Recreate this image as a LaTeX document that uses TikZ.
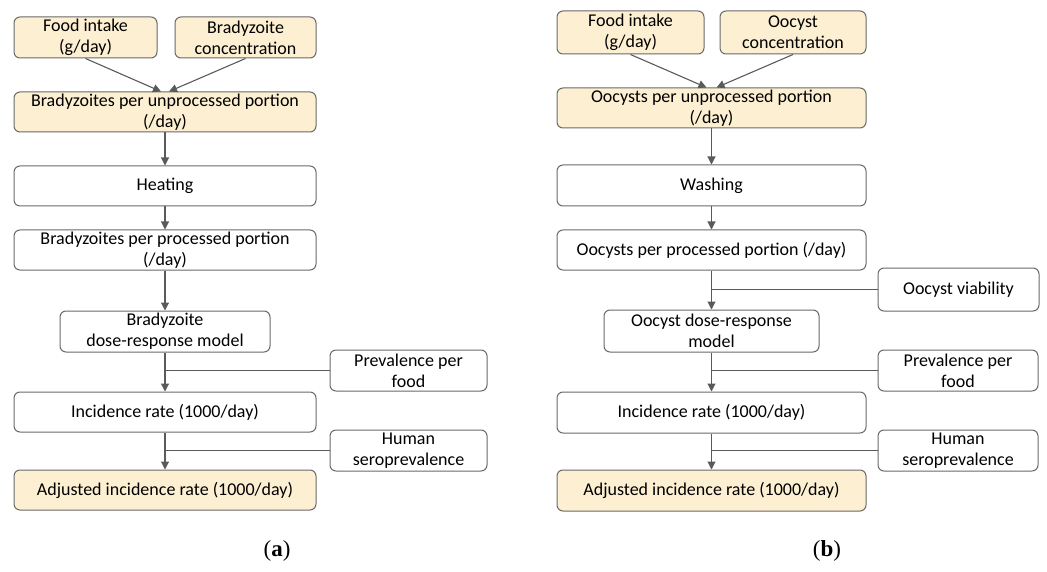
\documentclass[tikz,border=0pt]{standalone}
\usepackage{fontspec}
\setmainfont{Carlito}
\newfontfamily\panelfont{Liberation Serif}
\usetikzlibrary{positioning,arrows.meta,calc}
\definecolor{inputyellow}{RGB}{253,240,210}
\definecolor{boxgray}{RGB}{105,105,105}
\definecolor{flowgray}{RGB}{90,90,90}

\begin{document}
\begin{tikzpicture}[x=1pt,y=-1pt,
    base/.style={rectangle, rounded corners=6pt, draw=boxgray, line width=1pt, align=center, inner sep=0pt, font=\fontsize{18}{21}\selectfont},
    inbox/.style={base, fill=inputyellow},
    stepbox/.style={base, fill=white},
    flow/.style={draw=flowgray, line width=1.1pt, -{Triangle[width=8pt,length=8pt]}},
    feed/.style={draw=flowgray, line width=1.1pt},
    panel/.style={font=\panelfont\fontsize{23}{26}\selectfont}]
    \useasboundingbox (0,0) rectangle (1047,572);

    % (a) bradyzoites
    \node[inbox, minimum width=143pt, minimum height=41pt] (fooda) at (85.5,37.5) {Food intake\\(g/day)};
    \node[inbox, minimum width=141pt, minimum height=41pt] (conca) at (245.5,37.5) {Bradyzoite\\concentration};
    \node[inbox, minimum width=302pt, minimum height=40pt] (unproca) at (165,112) {Bradyzoites per unprocessed portion\\(/day)};
    \node[stepbox, minimum width=302pt, minimum height=40pt] (heata) at (165,186) {Heating};
    \node[stepbox, minimum width=302pt, minimum height=40pt] (proca) at (165,250) {Bradyzoites per processed portion\\(/day)};
    \node[stepbox, minimum width=210pt, minimum height=41pt] (dosea) at (165,331.5) {Bradyzoite\\dose-response model};
    \node[stepbox, minimum width=157pt, minimum height=41pt] (preva) at (408.5,370.5) {Prevalence per\\food};
    \node[stepbox, minimum width=302pt, minimum height=40pt] (inca) at (165,412) {Incidence rate (1000/day)};
    \node[stepbox, minimum width=157pt, minimum height=41pt] (seroa) at (408.5,450.5) {Human\\seroprevalence};
    \node[inbox, minimum width=302pt, minimum height=40pt] (adja) at (165,490) {Adjusted incidence rate (1000/day)};

    \draw[flow] (fooda.south) -- ([xshift=-4pt]unproca.north);
    \draw[flow] (conca.south) -- ([xshift=4pt]unproca.north);
    \draw[flow] (unproca) -- (heata);
    \draw[flow] (heata) -- (proca);
    \draw[flow] (proca) -- (dosea);
    \draw[flow] (dosea) -- (inca);
    \draw[flow] (inca) -- (adja);
    \draw[feed] (preva.west) -- (preva.west -| dosea.south);
    \draw[feed] (seroa.west) -- (seroa.west -| inca.south);

    % (b) oocysts
    \node[inbox, minimum width=147pt, minimum height=43pt] (foodb) at (630.5,32.5) {Food intake\\(g/day)};
    \node[inbox, minimum width=146pt, minimum height=43pt] (concb) at (793,32.5) {Oocyst\\concentration};
    \node[inbox, minimum width=309pt, minimum height=40pt] (unprocb) at (711.5,108) {Oocysts per unprocessed portion\\(/day)};
    \node[stepbox, minimum width=309pt, minimum height=41pt] (washb) at (711.5,185.5) {Washing};
    \node[stepbox, minimum width=309pt, minimum height=40pt] (procb) at (711.5,250) {Oocysts per processed portion (/day)};
    \node[stepbox, minimum width=161pt, minimum height=43pt] (viabb) at (958.5,289.5) {Oocyst viability};
    \node[stepbox, minimum width=215pt, minimum height=42pt] (doseb) at (711.5,331) {Oocyst dose-response\\model};
    \node[stepbox, minimum width=160pt, minimum height=41pt] (prevb) at (958,370.5) {Prevalence per\\food};
    \node[stepbox, minimum width=309pt, minimum height=41pt] (incb) at (711.5,412.5) {Incidence rate (1000/day)};
    \node[stepbox, minimum width=160pt, minimum height=41pt] (serob) at (958,450.5) {Human\\seroprevalence};
    \node[inbox, minimum width=309pt, minimum height=41pt] (adjb) at (711.5,490.5) {Adjusted incidence rate (1000/day)};

    \draw[flow] (foodb.south) -- ([xshift=-5pt]unprocb.north);
    \draw[flow] (concb.south) -- ([xshift=5pt]unprocb.north);
    \draw[flow] (unprocb) -- (washb);
    \draw[flow] (washb) -- (procb);
    \draw[flow] (procb) -- (doseb);
    \draw[flow] (doseb) -- (incb);
    \draw[flow] (incb) -- (adjb);
    \draw[feed] (viabb.west) -- (viabb.west -| procb.south);
    \draw[feed] (prevb.west) -- (prevb.west -| doseb.south);
    \draw[feed] (serob.west) -- (serob.west -| incb.south);

    \node[panel] (labela) at (277,551) {(\textbf{a})};
    \node[panel] (labelb) at (827,551) {(\textbf{b})};
\end{tikzpicture}
\end{document}
